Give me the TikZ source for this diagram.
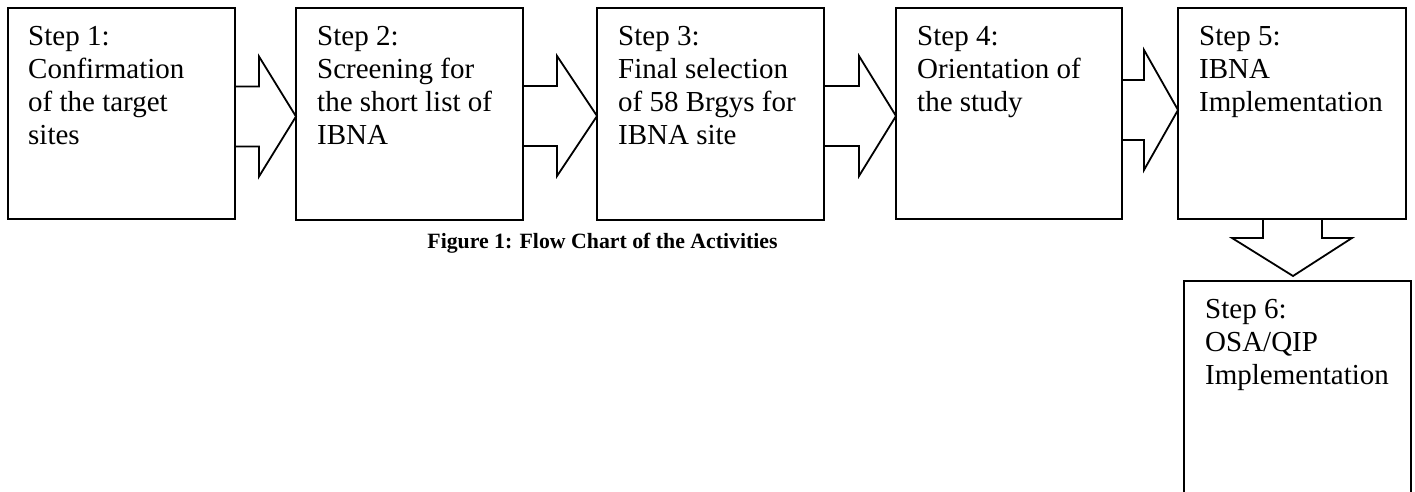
\documentclass[tikz,border=0pt]{standalone}
\usepackage{fontspec}
\setmainfont{Liberation Serif}
\usetikzlibrary{calc}

\tikzset{
  stepbox/.style={draw, line width=1.8pt, rectangle, inner sep=0pt, outer sep=0pt},
  steptext/.style={anchor=north west, inner sep=0pt, align=left,
    font=\fontsize{29}{33}\selectfont},
  blockarrow/.style={draw, line width=1.8pt, line join=miter},
  caption/.style={anchor=base, inner sep=0pt, font=\fontsize{21.8}{26}\selectfont\bfseries}
}

% right-pointing block arrow: from box, to box, centre height, x of the head base
\newcommand\rightblock[4]{%
  \draw[blockarrow] let \p1=(#1.east), \p2=(#2.west) in
    (\x1,{#3+30}) -- (#4,{#3+30}) -- (#4,{#3+60}) -- (\x2,#3)
    -- (#4,{#3-60}) -- (#4,{#3-30}) -- (\x1,{#3-30});}

\begin{document}
\begin{tikzpicture}[x=1pt,y=1pt]
  \useasboundingbox (0,0) rectangle (1415,492);
  \clip (0,0) rectangle (1415,492);
  \fill[white] (0,0) rectangle (1415,492);

  % the six steps
  \node[stepbox, minimum width=227, minimum height=211] (b1) at (121.5,378.5) {};
  \node[stepbox, minimum width=227, minimum height=212] (b2) at (409.5,378) {};
  \node[stepbox, minimum width=227, minimum height=212] (b3) at (710.5,378) {};
  \node[stepbox, minimum width=226, minimum height=211] (b4) at (1009,378.5) {};
  \node[stepbox, minimum width=228, minimum height=211] (b5) at (1292,378.5) {};
  \node[stepbox, minimum width=227, minimum height=250, anchor=north] (b6) at (1297.5,211) {};

  \node[steptext] at ($(b1.north west)+(20,-18)$) {Step 1:\\Confirmation\\of the target\\sites};
  \node[steptext] at ($(b2.north west)+(21,-18)$) {Step 2:\\Screening for\\the short list of\\IBNA};
  \node[steptext] at ($(b3.north west)+(21,-18)$) {Step 3:\\Final selection\\of 58 Brgys for\\IBNA site};
  \node[steptext] at ($(b4.north west)+(21,-18)$) {Step 4:\\Orientation of\\the study};
  \node[steptext] at ($(b5.north west)+(21,-18)$) {Step 5:\\IBNA\\Implementation};
  \node[steptext] at ($(b6.north west)+(21,-18)$) {Step 6:\\OSA/QIP\\Implementation};

  % block arrows between the steps
  \rightblock{b1}{b2}{375.5}{259}
  \rightblock{b2}{b3}{376}{557}
  \rightblock{b3}{b4}{376}{859}
  \rightblock{b4}{b5}{382}{1144}

  % downward block arrow from step 5 to step 6
  \draw[blockarrow] let \p1=(b5.south), \p2=(b6.north) in
    (1263,\y1) -- (1263,254) -- (1232,254) -- (1293,{\y2+5})
    -- (1352,254) -- (1322,254) -- (1322,\y1);

  \node[caption] (cap) at (602.5,243) {Figure 1: Flow Chart of the Activities};
\end{tikzpicture}
\end{document}
